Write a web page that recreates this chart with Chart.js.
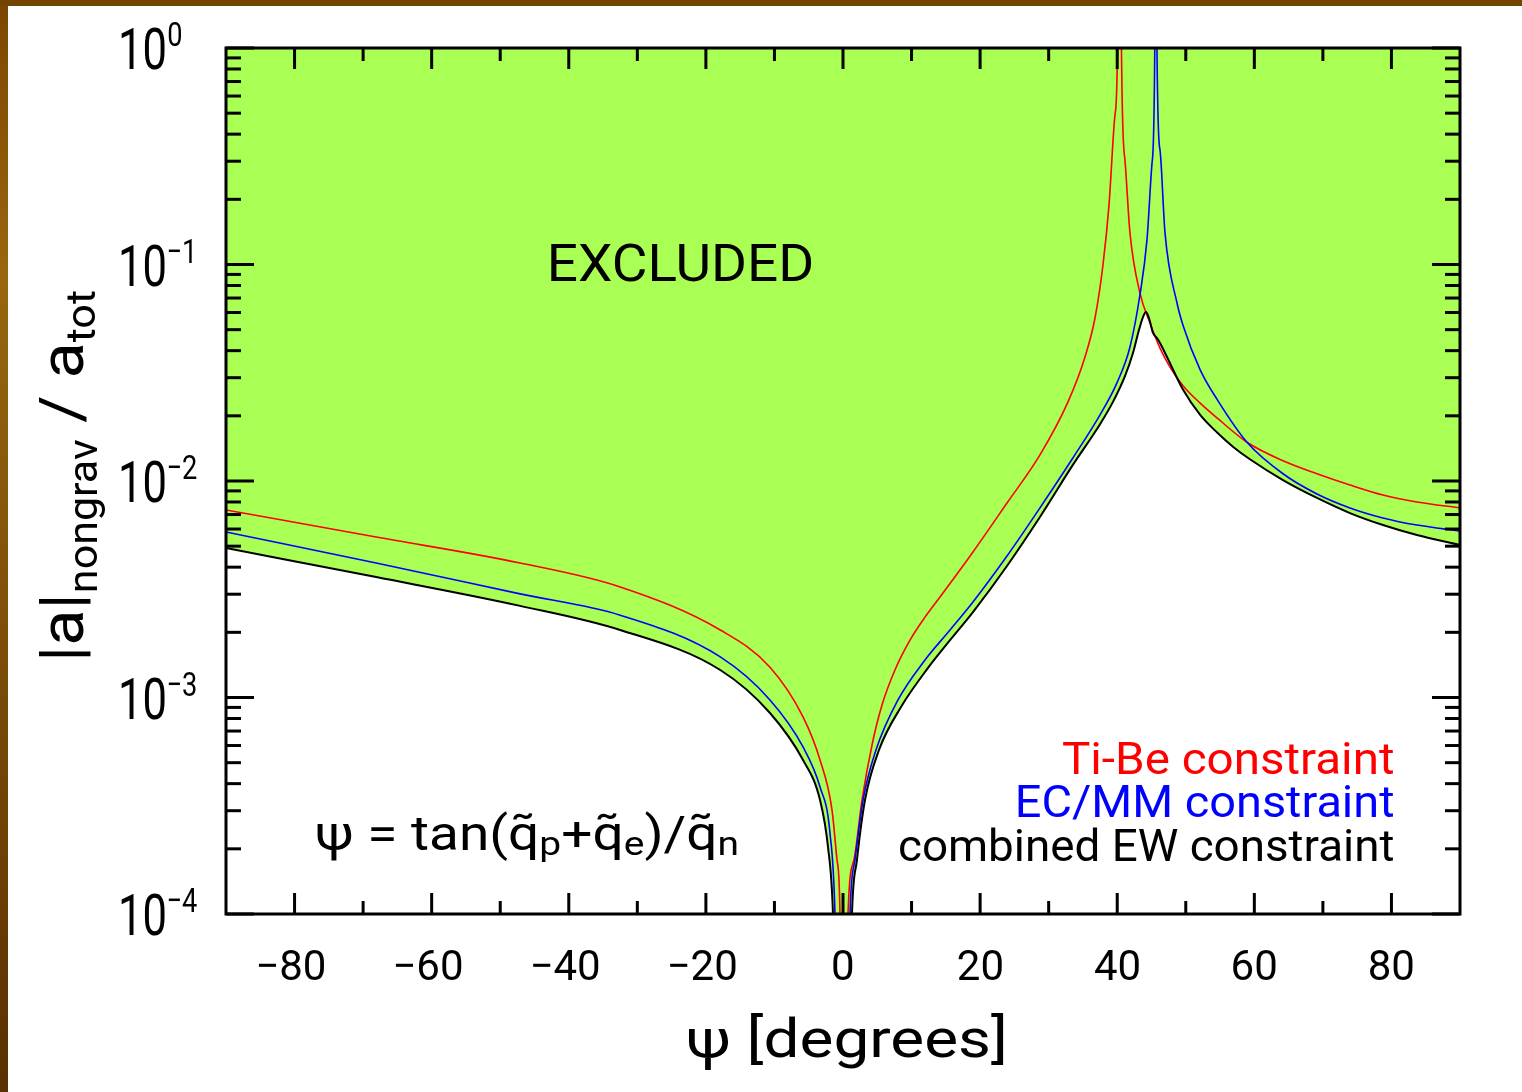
<!DOCTYPE html>
<html>
<head>
<meta charset="utf-8">
<script src="https://cdn.jsdelivr.net/npm/chart.js"></script>
<style>
  html, body { margin: 0; padding: 0; background: #fff; overflow: hidden; }
  #wrap { width: 1522px; height: 1092px; position: relative; }
</style>
</head>
<body>
<div id="wrap"><canvas id="chart"></canvas></div>
<script>
// psi in degrees, |a|_nongrav / a_tot
const tiBeX = [-90, -68.1, -47.1, -32.5, -17.9, -10.65, -5.83, -3.35, -1.6, -0.875, -0.44, 0, 0.73, 1.6, 2.77, 4.23, 5.69, 7.58, 9.77, 11.96, 14.15, 18.96, 23.92, 28.73, 32.82, 35.3, 36.76, 37.92, 38.8, 39.67, 40.04, 40.33, 40.62, 41.13, 41.86, 43.31, 44.78, 46.24, 47.7, 49.63, 52.1, 54.61, 58.93, 64.18, 69.14, 73.95, 78.76, 83.71, 90];
const tiBeY = [7.35e-3, 5.51e-3, 4.18e-3, 3.24e-3, 2.05e-3, 1.38e-3, 8.13e-4, 5.14e-4, 3.02e-4, 1.78e-4, 1.0e-4, 1e-6, 1.0e-4, 1.78e-4, 3.36e-4, 6.03e-4, 9.23e-4, 1.34e-3, 1.84e-3, 2.35e-3, 2.91e-3, 4.70e-3, 7.91e-3, 1.32e-2, 2.32e-2, 3.74e-2, 5.66e-2, 9.95e-2, 0.188, 0.490, 1.0, 1e3, 0.979, 0.303, 0.140, 7.39e-2, 5.37e-2, 4.11e-2, 3.36e-2, 2.75e-2, 2.29e-2, 1.95e-2, 1.51e-2, 1.24e-2, 1.08e-2, 9.58e-3, 8.61e-3, 8.00e-3, 7.51e-3];

const ecmmX = [-90, -68.1, -47.1, -32.5, -17.9, -10.65, -5.83, -3.35, -1.9, -1.17, 0, 1.02, 1.75, 2.92, 4.81, 8.02, 11.96, 15.61, 18.96, 23.92, 28.73, 33.55, 37.49, 39.96, 41.86, 43.31, 44.34, 45.07, 45.48, 45.65, 45.8, 46.24, 46.97, 48.72, 49.63, 52.1, 54.61, 58.93, 64.18, 69.14, 73.95, 78.76, 83.71, 90];
const ecmmY = [5.81e-3, 4.18e-3, 3.01e-3, 2.40e-3, 1.54e-3, 9.74e-4, 5.91e-4, 3.86e-4, 2.37e-4, 1.0e-4, 1e-6, 1.0e-4, 1.78e-4, 3.36e-4, 5.72e-4, 9.74e-4, 1.49e-3, 2.05e-3, 2.76e-3, 4.50e-3, 7.51e-3, 1.28e-2, 2.02e-2, 2.84e-2, 4.16e-2, 7.23e-2, 0.130, 0.292, 1.0, 1e3, 0.979, 0.338, 0.140, 6.64e-2, 5.20e-2, 3.26e-2, 2.37e-2, 1.51e-2, 1.08e-2, 8.71e-3, 7.51e-3, 6.75e-3, 6.26e-3, 5.88e-3];

const ewX = [-90, -68.1, -47.1, -32.5, -17.9, -10.65, -5.83, -3.35, -2.19, -1.46, 0, 1.31, 2.04, 3.21, 5.25, 8.46, 12.4, 15.61, 18.96, 23.92, 28.73, 33.55, 37.49, 39.38, 41.13, 42.3, 43.17, 43.76, 44.19, 44.63, 45.22, 45.8, 46.24, 47.26, 49.63, 52.1, 54.61, 56.88, 59.36, 64.18, 69.14, 73.95, 78.76, 83.71, 90];
const ewY = [4.90e-3, 3.60e-3, 2.65e-3, 2.05e-3, 1.34e-3, 8.48e-4, 5.14e-4, 3.36e-4, 2.04e-4, 1.0e-4, 1e-6, 1.0e-4, 1.78e-4, 3.36e-4, 5.72e-4, 9.04e-4, 1.37e-3, 1.84e-3, 2.48e-3, 4.05e-3, 6.82e-3, 1.19e-2, 1.83e-2, 2.32e-2, 3.05e-2, 3.90e-2, 4.98e-2, 5.72e-2, 6.03e-2, 5.66e-2, 4.83e-2, 4.57e-2, 4.34e-2, 3.74e-2, 2.63e-2, 2.02e-2, 1.67e-2, 1.44e-2, 1.26e-2, 1.01e-2, 8.35e-3, 7.11e-3, 6.26e-3, 5.63e-3, 5.06e-3];

const seriesNames = ['Ti-Be constraint', 'EC/MM constraint', 'combined EW constraint'];
const xMajor = [-80, -60, -40, -20, 0, 20, 40, 60, 80];
const xMinor = [-70, -50, -30, -10, 10, 30, 50, 70];
const yDecades = [1e-4, 1e-3, 1e-2, 1e-1, 1];
const yExponents = ['\u22124', '\u22123', '\u22122', '\u22121', '0'];

const FONT = 'Roboto, "Open Sans", sans-serif';

function pts(xs, ys) {
  return xs.map((x, i) => ({ x: x, y: ys[i] }));
}

// draw text so its ink box starts/ends at x, optionally squeezed to a given ink width
function inkText(ctx, str, size, color, x, base, opts) {
  opts = opts || {};
  ctx.font = size + 'px ' + FONT;
  ctx.fillStyle = color;
  ctx.textAlign = 'left';
  ctx.textBaseline = 'alphabetic';
  const m = ctx.measureText(str);
  const ink = m.actualBoundingBoxLeft + m.actualBoundingBoxRight;
  const sx = opts.w ? opts.w / ink : (opts.sx || 1);
  const w = ink * sx;
  const left = opts.align === 'right' ? x - w : opts.align === 'center' ? x - w / 2 : x;
  ctx.save();
  ctx.translate(left, base);
  ctx.scale(sx, 1);
  ctx.fillText(str, m.actualBoundingBoxLeft, 0);
  ctx.restore();
}

// text made of pieces (subscripts etc), squeezed to total width w
function drawRun(ctx, pieces, x, base, w, color) {
  let total = 0;
  pieces.forEach(p => {
    ctx.font = p.size + 'px ' + FONT;
    p.adv = ctx.measureText(p.t).width;
    total += p.adv;
  });
  const sx = w / total;
  ctx.save();
  ctx.translate(x, base);
  ctx.scale(sx, 1);
  ctx.fillStyle = color;
  ctx.textAlign = 'left';
  ctx.textBaseline = 'alphabetic';
  let cx = 0;
  pieces.forEach(p => {
    ctx.font = p.size + 'px ' + FONT;
    ctx.fillText(p.t, cx, p.dy || 0);
    cx += p.adv;
  });
  ctx.restore();
}

const decor = {
  id: 'decor',
  beforeDraw(chart) {
    const ctx = chart.ctx;
    ctx.save();
    ctx.fillStyle = '#fff';
    ctx.fillRect(0, 0, chart.width, chart.height);
    const g = ctx.createLinearGradient(0, 0, 0, chart.height);
    g.addColorStop(0, '#7a4600');
    g.addColorStop(0.25, '#98660f');
    g.addColorStop(1, '#5a3000');
    ctx.fillStyle = g;
    ctx.fillRect(0, 0, 8, chart.height);
    ctx.fillStyle = '#734300';
    ctx.fillRect(0, 0, chart.width, 6);
    ctx.restore();
  },
  afterDraw(chart) {
    const ctx = chart.ctx;
    const a = chart.chartArea;
    const xs = chart.scales.x, ys = chart.scales.y;
    ctx.save();
    ctx.strokeStyle = '#000';
    ctx.lineWidth = 3;
    ctx.strokeRect(a.left, a.top, a.right - a.left, a.bottom - a.top);

    function tick(x1, y1, x2, y2) {
      ctx.beginPath();
      ctx.moveTo(x1, y1);
      ctx.lineTo(x2, y2);
      ctx.stroke();
    }
    xMajor.forEach(v => {
      const px = xs.getPixelForValue(v);
      tick(px, a.bottom, px, a.bottom - 21);
      tick(px, a.top, px, a.top + 21);
    });
    xMinor.forEach(v => {
      const px = xs.getPixelForValue(v);
      tick(px, a.bottom, px, a.bottom - 13);
      tick(px, a.top, px, a.top + 13);
    });
    yDecades.forEach((d, i) => {
      const py = ys.getPixelForValue(d);
      tick(a.left, py, a.left + 28, py);
      tick(a.right, py, a.right - 28, py);
      if (i < yDecades.length - 1) {
        for (let m = 2; m <= 9; m++) {
          const q = ys.getPixelForValue(m * d);
          tick(a.left, q, a.left + 15, q);
          tick(a.right, q, a.right - 15, q);
        }
      }
    });

    // x tick labels
    xMajor.forEach(v => {
      const px = xs.getPixelForValue(v);
      const s = v < 0 ? '\u2212' + Math.abs(v) : String(v);
      inkText(ctx, s, 42, '#000', px - (v < 0 ? 3 : 0), 980, { align: 'center', sx: 1 });
    });

    // y tick labels 10^n
    yDecades.forEach((d, i) => {
      const py = ys.getPixelForValue(d);
      inkText(ctx, '10', 58, '#000', 121, py + 21, { w: 44 });
      inkText(ctx, yExponents[i], 34, '#000', 168, py - 2, { sx: 0.8 });
    });

    // axis titles
    drawRun(ctx, [
      { t: '\u03c8 [degrees]', size: 54 }
    ], 686, 1057, 322, '#000');

    ctx.save();
    ctx.translate(83, 662);
    ctx.rotate(-Math.PI / 2);
    drawRun(ctx, [
      { t: '|a|', size: 62 },
      { t: 'nongrav', size: 40, dy: 14 },
      { t: ' / ', size: 62 },
      { t: 'a', size: 62 },
      { t: 'tot', size: 40, dy: 12 }
    ], 0, 0, 372, '#000');
    ctx.restore();

    // annotations
    inkText(ctx, 'EXCLUDED', 52, '#000', 551, 281, { w: 261 });

    drawRun(ctx, [
      { t: '\u03c8', size: 48 },
      { t: ' = ', size: 48 },
      { t: 'tan(', size: 48 },
      { t: 'q\u0303', size: 48 },
      { t: 'p', size: 34, dy: 5 },
      { t: '+', size: 48 },
      { t: 'q\u0303', size: 48 },
      { t: 'e', size: 34, dy: 5 },
      { t: ')/', size: 48 },
      { t: 'q\u0303', size: 48 },
      { t: 'n', size: 34, dy: 5 }
    ], 315, 850, 424, '#000');

    inkText(ctx, seriesNames[0], 44, '#ff0000', 1393, 774, { w: 330, align: 'right' });
    inkText(ctx, seriesNames[1], 44, '#0000ff', 1393, 817, { w: 375, align: 'right' });
    inkText(ctx, seriesNames[2], 44, '#000000', 1393, 861, { w: 493, align: 'right' });
    ctx.restore();
  }
};

new Chart(document.getElementById('chart'), {
  type: 'line',
  data: {
    datasets: [
      {
        label: seriesNames[2],
        data: pts(ewX, ewY),
        borderColor: '#000000',
        borderWidth: 2,
        backgroundColor: '#aaff55',
        fill: 'end'
      },
      {
        label: seriesNames[1],
        data: pts(ecmmX, ecmmY),
        borderColor: '#0000ff',
        borderWidth: 1.6,
        fill: false
      },
      {
        label: seriesNames[0],
        data: pts(tiBeX, tiBeY),
        borderColor: '#ff0000',
        borderWidth: 1.6,
        fill: false
      }
    ]
  },
  options: {
    responsive: true,
    maintainAspectRatio: false,
    animation: false,
    devicePixelRatio: 1,
    layout: { padding: { left: 226, top: 48, right: 62, bottom: 178 } },
    elements: {
      point: { radius: 0 },
      line: { cubicInterpolationMode: 'monotone' }
    },
    scales: {
      x: { type: 'linear', min: -90, max: 90, display: false },
      y: { type: 'logarithmic', min: 1e-4, max: 1, display: false }
    },
    plugins: {
      legend: { display: false },
      tooltip: { enabled: false },
      filler: { drawTime: 'beforeDatasetsDraw' }
    }
  },
  plugins: [decor]
});
</script>
</body>
</html>
